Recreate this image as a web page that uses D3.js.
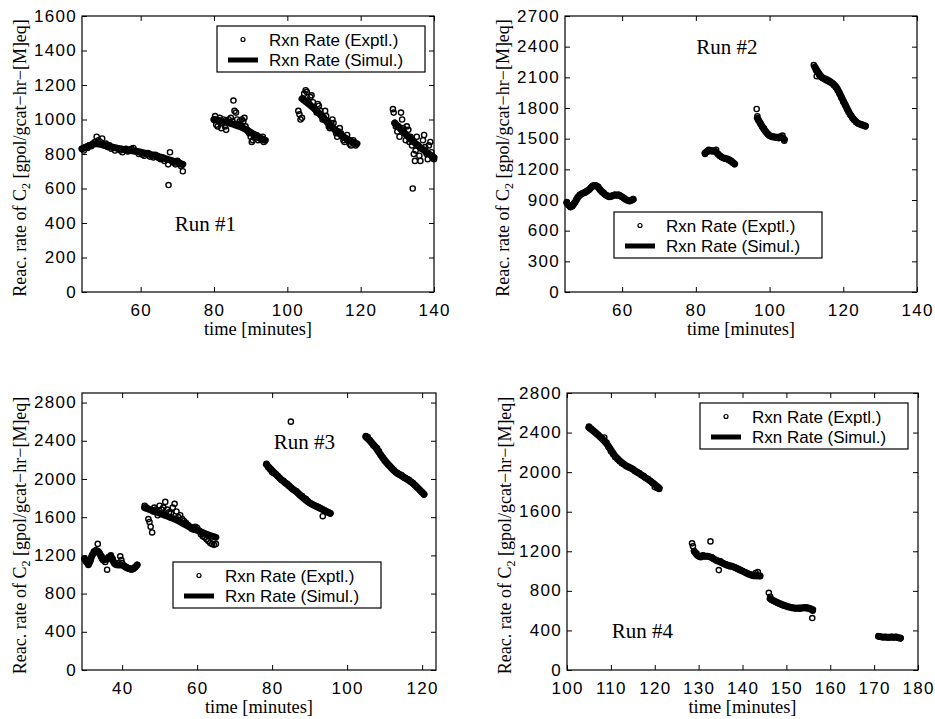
<!DOCTYPE html>
<html>
<head>
<meta charset="utf-8">
<script src="https://cdn.jsdelivr.net/npm/d3@7"></script>
<style>
  body { margin: 0; background: #fff; }
</style>
</head>
<body>
<svg width="935" height="719"></svg>
<script>
// ---- data: [time (min), rate] ----
var run1Exptl = [
  [44,830],[44.5,820],[45,840],[45.5,835],[46,850],[46.5,845],[47,860],[47.5,870],[48,900],[48.5,880],
  [49,870],[49.5,890],[50,850],[50.5,860],[51,840],[51.5,850],[52,830],[52.5,840],[53,820],[53.5,835],
  [54,830],[54.5,820],[55,810],[55.5,825],[56,830],[56.5,815],[57,820],[57.5,830],[58,835],[58.5,820],
  [59,815],[59.5,800],[60,810],[60.5,795],[61,790],[61.5,800],[62,805],[62.5,785],[63,790],[63.5,780],
  [64,795],[64.5,790],[65,775],[65.5,770],[66,780],[66.5,760],[67,770],[67.5,740],[67.6,620],[68,810],
  [68.5,760],[69,750],[69.5,740],[70,760],[70.5,750],[71,730],[71.2,740],[71.5,700],
  [80,1000],[80.3,1020],[80.6,970],[81,960],[81.3,990],[81.6,1010],[82,950],[82.3,980],[82.6,1000],[83,960],
  [83.3,940],[83.6,990],[84,1000],[84.3,980],[84.6,1010],[85,990],[85.3,1110],[85.6,1050],[86,1040],[86.3,1000],
  [86.6,970],[87,990],[87.3,960],[87.6,1000],[88,990],[88.3,1010],[88.6,960],[89,940],[89.3,930],[89.6,920],
  [90,900],[90.3,870],[90.6,880],[91,900],[91.3,890],[91.6,910],[92,880],[92.3,900],[92.6,890],[93,880],
  [93.3,900],[93.6,870],
  [103,1050],[103.3,1030],[103.6,1000],[104,1010],[104.3,1120],[104.6,1150],[105,1170],[105.3,1160],[105.6,1110],[106,1090],
  [106.3,1130],[106.6,1140],[107,1100],[107.3,1070],[107.6,1060],[108,1040],[108.3,1090],[108.6,1080],[109,1050],[109.3,1020],
  [109.6,1000],[110,1010],[110.3,1050],[110.6,1020],[111,990],[111.3,960],[111.6,950],[112,980],[112.3,1000],[112.6,980],
  [113,940],[113.3,920],[113.6,900],[114,930],[114.3,950],[114.6,920],[115,900],[115.3,880],[115.6,870],[116,890],
  [116.3,910],[116.6,880],[117,860],[117.3,850],[117.6,870],[118,880],[118.3,860],[118.6,850],
  [128.8,1060],[129,1040],[129.3,980],[129.6,960],[130,930],[130.3,960],[130.6,900],[131,1040],[131.3,1000],[131.6,950],
  [132,920],[132.3,880],[132.6,960],[133,940],[133.3,870],[133.6,900],[134,850],[134.2,600],[134.5,800],[134.8,760],
  [135,820],[135.3,900],[135.6,850],[136,790],[136.3,760],[136.6,830],[137,880],[137.3,910],[137.6,840],[138,800],
  [138.3,770],[138.6,850],[139,870],[139.3,810],[139.6,780],[140,770]
];
var run1Sim = [
  [[44,830],[48,860],[52,840],[56,825],[60,810],[64,790],[68,765],[71.5,740]],
  [[80,1000],[84,980],[88,950],[92,900],[94,880]],
  [[104,1120],[108,1050],[112,960],[116,890],[119,860]],
  [[129.3,980],[132,920],[135,860],[138,810],[140,780]]
];

var run2Exptl = [
  [45,880],[45.5,850],[46,830],[46.5,840],[47,870],[47.5,900],[48,930],[48.5,950],[49,960],[49.5,970],
  [50,975],[50.5,990],[51,1000],[51.5,1020],[52,1040],[52.5,1045],[53,1040],[53.5,1030],[54,1000],[54.5,980],
  [55,970],[55.5,950],[56,940],[56.5,930],[57,935],[57.5,945],[58,950],[58.5,945],[59,950],[59.5,940],
  [60,930],[60.5,920],[61,905],[61.5,895],[62,890],[62.5,900],[63,910],
  [82.5,1350],[83,1370],[83.5,1390],[84,1385],[84.5,1375],[85,1380],[85.5,1390],[86,1350],[86.5,1330],[87,1320],
  [87.5,1310],[88,1305],[88.5,1300],[89,1290],[89.5,1280],[90,1265],[90.5,1250],
  [96.5,1790],[96.7,1720],[97,1680],[97.5,1650],[98,1620],[98.5,1600],[99,1570],[99.5,1550],[100,1530],[100.5,1520],
  [101,1520],[101.5,1515],[102,1510],[102.5,1505],[103,1520],[103.5,1530],[104,1480],
  [112,2220],[112.3,2200],[112.6,2170],[112.8,2110],[113,2150],[113.5,2120],[114,2100],[114.5,2090],[115,2080],[115.5,2070],
  [116,2060],[116.5,2050],[117,2040],[117.5,2020],[118,2000],[118.5,1970],[119,1940],[119.5,1900],[120,1860],[120.5,1830],
  [121,1790],[121.5,1760],[122,1730],[122.5,1700],[123,1680],[123.5,1660],[124,1650],[124.5,1645],[125,1640],[125.5,1630],
  [126,1620]
];
var run2Sim = [
  [[45,870],[46,835],[47,865],[48,925],[49,960],[50,975],[51,1000],[52,1035],[53,1040],[54,1000],
   [55,965],[56,940],[57,935],[58,950],[59,948],[60,930],[61,905],[62,890],[63,905]],
  [[82.5,1360],[83.5,1385],[85,1380],[86,1350],[87,1320],[89,1295],[90.5,1255]],
  [[96.7,1700],[97.5,1650],[98.5,1590],[100,1530],[101.5,1515],[103,1515],[104,1495]],
  [[112.3,2200],[114,2110],[116,2070],[118,2010],[120,1870],[122,1730],[124,1650],[126,1625]]
];

var run3Exptl = [
  [30,1170],[30.5,1150],[31,1100],[31.5,1150],[32,1200],[32.5,1240],[33,1250],[33.5,1320],[33.7,1240],[34,1220],
  [34.5,1190],[35,1150],[35.5,1130],[36,1050],[36.2,1160],[36.5,1180],[37,1200],[37.5,1160],[38,1120],[38.5,1100],
  [39,1120],[39.5,1190],[39.8,1150],[40,1120],[40.5,1090],[41,1080],[41.5,1070],[42,1060],[42.5,1050],[43,1060],
  [43.5,1080],[44,1100],
  [46,1720],[46.5,1700],[47,1580],[47.3,1550],[47.6,1500],[48,1440],[48.3,1660],[48.6,1700],[49,1680],[49.5,1620],
  [50,1720],[50.5,1680],[51,1700],[51.5,1760],[52,1680],[52.5,1650],[53,1640],[53.5,1700],[54,1740],[54.5,1660],
  [55,1600],[55.5,1620],[56,1580],[56.5,1560],[57,1540],[57.5,1520],[58,1500],[58.5,1480],[59,1470],[59.5,1500],
  [60,1490],[60.5,1460],[61,1420],[61.5,1400],[62,1390],[62.5,1370],[63,1350],[63.5,1330],[64,1320],[64.5,1310],
  [65,1320],
  [78.5,2160],[79,2120],[79.5,2100],[80,2070],[80.5,2060],[81,2050],[81.5,2030],[82,2010],[82.5,1990],[83,1980],
  [83.5,1960],[84,1950],[84.5,1930],[85,2600],[85,1910],[85.5,1890],[86,1880],[86.5,1870],[87,1850],[87.5,1830],
  [88,1820],[88.5,1800],[89,1790],[89.5,1770],[90,1750],[90.5,1740],[91,1730],[91.5,1720],[92,1710],[92.5,1700],
  [93,1690],[93.5,1610],[93.5,1680],[94,1670],[94.5,1660],[95,1650],[95.5,1640],
  [105,2450],[105.5,2440],[106,2410],[106.5,2380],[107,2350],[107.5,2340],[108,2320],[108.5,2290],[109,2250],[109.5,2220],
  [110,2190],[110.5,2170],[111,2150],[111.5,2130],[112,2110],[112.5,2090],[113,2070],[113.5,2060],[114,2050],[114.5,2040],
  [115,2020],[115.5,2010],[116,2000],[116.5,1990],[117,1970],[117.5,1960],[118,1940],[118.5,1920],[119,1900],[119.5,1880],
  [120,1860],[120.5,1840]
];
var run3Sim = [
  [[30,1160],[31,1110],[32,1200],[33,1250],[34,1220],[35,1150],[36,1170],[37,1190],[38,1110],[39,1100],
   [40,1100],[41,1075],[42,1060],[43,1060],[44,1100]],
  [[46,1700],[50,1640],[54,1580],[58,1500],[62,1430],[65,1390]],
  [[78.5,2150],[82,2010],[86,1880],[90,1750],[93,1690],[95.5,1640]],
  [[105,2440],[107,2360],[109,2250],[111,2150],[113,2070],[115,2020],[117,1970],[119,1900],[120.5,1840]]
];

var run4Exptl = [
  [105,2460],[105.5,2440],[106,2420],[106.5,2400],[107,2380],[107.5,2360],[108,2340],[108.5,2350],[109,2300],[109.5,2250],
  [110,2210],[110.5,2180],[111,2150],[111.5,2130],[112,2110],[112.5,2090],[113,2080],[113.5,2060],[114,2050],[114.5,2040],
  [115,2030],[115.5,2010],[116,2000],[116.5,1990],[117,1970],[117.5,1960],[118,1940],[118.5,1930],[119,1910],[119.5,1890],
  [120,1850],[120.5,1840],[121,1830],
  [128.5,1280],[128.7,1250],[129,1200],[129.5,1180],[130,1150],[130.5,1140],[131,1160],[131.5,1150],[132,1150],[132.7,1300],
  [133,1140],[133.5,1120],[134,1110],[134.6,1010],[135,1100],[135.5,1080],[136,1070],[136.5,1060],[137,1050],[137.5,1050],
  [138,1040],[138.5,1030],[139,1020],[139.5,1010],[140,1000],[140.5,990],[141,980],[141.5,970],[142,960],[142.5,950],
  [143,980],[143.5,990],[144,950],
  [146,780],[146.3,740],[146.6,710],[147,700],[147.5,690],[148,680],[148.5,670],[149,660],[149.5,650],[150,645],
  [150.5,640],[151,635],[151.5,630],[152,625],[152.5,625],[153,620],[153.5,625],[154,630],[154.5,635],[155,630],
  [155.5,620],[156,600],[155.9,525],
  [171,340],[171.5,335],[172,330],[172.5,335],[173,330],[173.5,330],[174,335],[174.5,330],[175,335],[175.5,325],
  [176,320]
];
var run4Sim = [
  [[105,2450],[107,2380],[109,2290],[111,2160],[113,2080],[115,2030],[117,1970],[119,1910],[121,1840]],
  [[129,1200],[130,1150],[132,1150],[134,1110],[136,1070],[138,1040],[140,1000],[142,960],[144,950]],
  [[146.3,720],[148,680],[150,645],[152,625],[154,630],[156,610]],
  [[171,340],[173,330],[175,332],[176,322]]
];

var xTicks1 = [60, 80, 100, 120, 140];
var yTicks1 = [0, 200, 400, 600, 800, 1000, 1200, 1400, 1600];
var xTicks2 = [60, 80, 100, 120, 140];
var yTicks2 = [0, 300, 600, 900, 1200, 1500, 1800, 2100, 2400, 2700];
var xTicks3 = [40, 60, 80, 100, 120];
var yTicks3 = [0, 400, 800, 1200, 1600, 2000, 2400, 2800];
var xTicks4 = [100, 110, 120, 130, 140, 150, 160, 170, 180];
var yTicks4 = [0, 400, 800, 1200, 1600, 2000, 2400, 2800];

var runLabels = ["Run #1", "Run #2", "Run #3", "Run #4"];
var runLabelAt = [[69.3, 355], [80.1, 2330], [80.4, 2316], [110.2, 324]];
var legendNames = ["Rxn Rate (Exptl.)", "Rxn Rate (Simul.)"];
var xTitle = "time [minutes]";

// ---- layout ----
var serif = "'Liberation Serif', 'Times New Roman', serif";
var sans = "'Liberation Sans', Arial, Helvetica, sans-serif";

var panels = [
  {exptl: run1Exptl, sim: run1Sim, xDomain: [44, 140], yDomain: [0, 1600], xTicks: xTicks1, yTicks: yTicks1,
   left: 82, right: 434, top: 16, bottom: 292, legend: [217, 26]},
  {exptl: run2Exptl, sim: run2Sim, xDomain: [44.5, 140], yDomain: [0, 2700], xTicks: xTicks2, yTicks: yTicks2,
   left: 565, right: 917, top: 16, bottom: 292, legend: [614, 212]},
  {exptl: run3Exptl, sim: run3Sim, xDomain: [29.3, 123.7], yDomain: [0, 2900], xTicks: xTicks3, yTicks: yTicks3,
   left: 82, right: 436, top: 393, bottom: 670, legend: [173, 562]},
  {exptl: run4Exptl, sim: run4Sim, xDomain: [100, 180], yDomain: [0, 2800], xTicks: xTicks4, yTicks: yTicks4,
   left: 567, right: 918, top: 393, bottom: 670, legend: [700, 403]}
];

var svg = d3.select("svg");
svg.append("rect").attr("width", 935).attr("height", 719).attr("fill", "#fff");

panels.forEach(function (p, i) {
  var g = svg.append("g");
  var x = d3.scaleLinear().domain(p.xDomain).range([p.left, p.right]);
  var y = d3.scaleLinear().domain(p.yDomain).range([p.bottom, p.top]);

  var line = d3.line()
      .x(function (d) { return x(d[0]); })
      .y(function (d) { return y(d[1]); })
      .curve(d3.curveMonotoneX);

  // simulation lines (thick) under the measured points
  g.selectAll(".sim").data(p.sim).enter().append("path")
    .attr("class", "sim")
    .attr("d", line)
    .attr("fill", "none")
    .attr("stroke", "#000")
    .attr("stroke-width", 7)
    .attr("stroke-linecap", "round")
    .attr("stroke-linejoin", "round");

  g.selectAll(".pt").data(p.exptl).enter().append("circle")
    .attr("class", "pt")
    .attr("cx", function (d) { return x(d[0]); })
    .attr("cy", function (d) { return y(d[1]); })
    .attr("r", 2.6)
    .attr("fill", "none")
    .attr("stroke", "#000")
    .attr("stroke-width", 1.4);

  // axes: Matlab-style box with inward ticks
  var fmt = d3.format("d");
  var gx = g.append("g")
    .attr("transform", "translate(0," + p.bottom + ")")
    .call(d3.axisBottom(x).tickValues(p.xTicks).tickFormat(fmt).tickSizeInner(-5).tickSizeOuter(0).tickPadding(12));
  var gy = g.append("g")
    .attr("transform", "translate(" + p.left + ",0)")
    .call(d3.axisLeft(y).tickValues(p.yTicks).tickFormat(fmt).tickSizeInner(-5).tickSizeOuter(0).tickPadding(5));
  g.append("g")
    .attr("transform", "translate(0," + p.top + ")")
    .call(d3.axisTop(x).tickValues(p.xTicks).tickSizeInner(-5).tickSizeOuter(0).tickFormat(""));
  g.append("g")
    .attr("transform", "translate(" + p.right + ",0)")
    .call(d3.axisRight(y).tickValues(p.yTicks).tickSizeInner(-5).tickSizeOuter(0).tickFormat(""));
  g.selectAll(".domain").remove();
  [gx, gy].forEach(function (a) {
    a.attr("font-family", sans).attr("font-size", 17);
    a.selectAll("text").attr("fill", "#000").attr("letter-spacing", "1.3px");
  });
  gy.selectAll("text").attr("dy", "0.3em");

  g.append("rect")
    .attr("x", p.left).attr("y", p.top)
    .attr("width", p.right - p.left).attr("height", p.bottom - p.top)
    .attr("fill", "none").attr("stroke", "#000").attr("stroke-width", 1.2);

  // axis titles
  g.append("text")
    .attr("x", (p.left + p.right) / 2)
    .attr("y", p.bottom + 43)
    .attr("text-anchor", "middle")
    .attr("font-family", serif)
    .attr("font-size", 18)
    .attr("textLength", 108)
    .attr("lengthAdjust", "spacingAndGlyphs")
    .text(xTitle);

  var yt = g.append("text")
    .attr("transform", "translate(" + (p.left - 56) + "," + ((p.top + p.bottom) / 2 + 4) + ") rotate(-90)")
    .attr("text-anchor", "middle")
    .attr("font-family", serif)
    .attr("font-size", 18);
  yt.append("tspan").text("Reac. rate of C");
  yt.append("tspan").attr("dy", 4).attr("font-size", 12).text("2");
  yt.append("tspan").attr("dy", -4).text(" [gpol/gcat\u2212hr\u2212[M]eq]");

  // run annotation
  g.append("text")
    .attr("x", x(runLabelAt[i][0]))
    .attr("y", y(runLabelAt[i][1]))
    .attr("font-family", serif)
    .attr("font-size", 21)
    .text(runLabels[i]);

  // legend
  var lg = g.append("g").attr("transform", "translate(" + p.legend[0] + "," + p.legend[1] + ")");
  lg.append("rect").attr("width", 208).attr("height", 46)
    .attr("fill", "#fff").attr("stroke", "#000").attr("stroke-width", 1.2);
  lg.append("circle").attr("cx", 26).attr("cy", 13.5).attr("r", 2)
    .attr("fill", "none").attr("stroke", "#000").attr("stroke-width", 1.2);
  lg.append("line").attr("x1", 11).attr("x2", 41).attr("y1", 34).attr("y2", 34)
    .attr("stroke", "#000").attr("stroke-width", 5);
  lg.selectAll(".lt").data(legendNames).enter().append("text")
    .attr("class", "lt")
    .attr("x", 52)
    .attr("y", function (d, k) { return 19.5 + k * 20.5; })
    .attr("font-family", sans)
    .attr("font-size", 17)
    .text(function (d) { return d; });
});
</script>
</body>
</html>
